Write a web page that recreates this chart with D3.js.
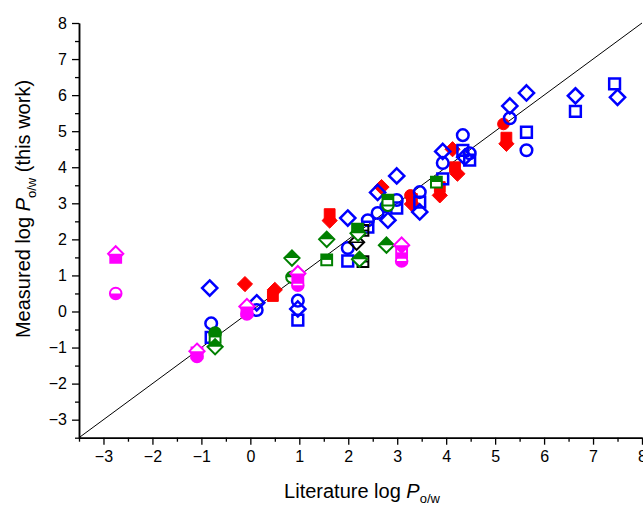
<!DOCTYPE html>
<html>
<head>
<meta charset="utf-8">
<script src="https://cdn.jsdelivr.net/npm/d3@7"></script>
<style>
  body { margin: 0; background: #fff; }
  text { font-family: "Liberation Sans", Arial, sans-serif; }
</style>
</head>
<body>
<svg id="chart" width="643" height="508"></svg>
<script>
// tick labels
var xTicks = [-3, -2, -1, 0, 1, 2, 3, 4, 5, 6, 7, 8];
var yTicks = [-3, -2, -1, 0, 1, 2, 3, 4, 5, 6, 7, 8];

// series: [literature, measured]
var blueCircle = [[-0.8,-0.33],[0.13,0.04],[0.97,0.3],[1.99,1.76],[2.4,2.53],[2.6,2.73],[2.78,2.92],
  [2.99,3.09],[3.46,3.31],[3.93,4.12],[4.34,4.89],[4.48,4.39],[5.3,5.36],[5.64,4.47]];
var blueSquare = [[-0.8,-0.72],[0.97,-0.24],[1.99,1.4],[2.4,2.34],[2.99,2.87],[3.46,3.03],[3.93,3.68],
  [4.34,4.47],[4.48,4.2],[5.64,4.97],[6.64,5.55],[7.44,6.31]];
var blueDiamond = [[-0.83,0.65],[0.13,0.24],[0.97,0.07],[1.99,2.59],[2.6,3.3],[2.81,2.53],[2.99,3.76],
  [3.46,2.76],[3.93,4.44],[4.38,4.28],[5.3,5.7],[5.64,6.06],[6.64,5.98],[7.5,5.94]];
var redDiamond = [[-0.11,0.76],[0.5,0.6],[1.62,2.52],[2.68,3.45],[3.3,2.98],[3.87,3.22],[4.13,4.5],
  [4.23,3.82],[5.23,4.65]];
var redSquare = [[0.46,0.43],[1.62,2.7],[3.3,3.12],[3.87,3.45],[4.18,4.0],[5.23,4.82]];
var redCircle = [[5.17,5.2],[3.27,3.22]];
var greenDiamond = [[-0.72,-0.98],[0.85,1.48],[1.56,2.0],[2.2,2.17],[2.23,1.45],[2.78,1.84]];
var greenSquare = [[-0.72,-0.72],[1.56,1.43],[2.19,2.28],[2.81,3.09],[3.8,3.59]];
var greenCircle = [[0.85,0.95],[-0.72,-0.6],[2.81,2.95]];
var magentaDiamond = [[-2.75,1.6],[-1.09,-1.1],[-0.07,0.14],[0.97,1.05],[3.09,1.84]];
var magentaSquare = [[-2.75,1.5],[-1.09,-1.15],[-0.07,0.02],[0.97,0.95],[3.09,1.64]];
var magentaCircle = [[-2.75,0.5],[-1.09,-1.25],[-0.07,-0.07],[0.97,0.73],[3.09,1.4]];
var blackSquare = [[2.3,2.25],[2.3,1.38]];
var blackDiamond = [[2.17,1.92]];

var svg = d3.select("#chart");
var x = d3.scaleLinear().domain([-3.5, 8]).range([79, 642]);
var y = d3.scaleLinear().domain([-3.5, 8]).range([437.7, 23]);

// diagonal y = x
svg.append("line")
  .attr("x1", x(-3.5)).attr("y1", y(-3.5))
  .attr("x2", x(8)).attr("y2", y(8))
  .attr("stroke", "#000").attr("stroke-width", 1);

function fullPath(type, s) {
  if (type == "diamond") return "M0," + -s + "L" + s + ",0L0," + s + "L" + -s + ",0Z";
  if (type == "square") return "M" + -s + "," + -s + "H" + s + "V" + s + "H" + -s + "Z";
  return "M" + -s + ",0A" + s + "," + s + " 0 1,1 " + s + ",0A" + s + "," + s + " 0 1,1 " + -s + ",0Z";
}
function halfPath(type, s, top) {
  var d = top ? -1 : 1;
  if (type == "diamond") return "M" + -s + ",0L" + s + ",0L0," + d * s + "Z";
  if (type == "square") return "M" + -s + ",0H" + s + "V" + d * s + "H" + -s + "Z";
  return "M" + -s + ",0A" + s + "," + s + " 0 0," + (top ? 1 : 0) + " " + s + ",0Z";
}
var sizes = { diamond: 7.6, square: 5.4, circle: 5.8 };

// fill: "none" | "full" | "top" | "bottom" | "line"
function drawSeries(data, type, color, fill) {
  var s = sizes[type];
  var g = svg.append("g").selectAll("g").data(data).enter().append("g")
    .attr("transform", function (d) { return "translate(" + x(d[0]) + "," + y(d[1]) + ")"; });
  if (fill == "top" || fill == "bottom") {
    g.append("path").attr("d", fullPath(type, s)).attr("fill", "#fff");
    g.append("path").attr("d", halfPath(type, s, fill == "top")).attr("fill", color);
  }
  if (fill == "line") {
    g.append("path").attr("d", "M" + -s + ",0H" + s).attr("stroke", color).attr("stroke-width", 1.5);
  }
  g.append("path").attr("d", fullPath(type, s))
    .attr("fill", fill == "full" ? color : "none")
    .attr("stroke", color)
    .attr("stroke-width", fill == "full" ? 1 : (color == "#0000ff" ? 2.5 : 2));
}

drawSeries(redDiamond, "diamond", "#ff0000", "full");
drawSeries(redSquare, "square", "#ff0000", "full");
drawSeries(redCircle, "circle", "#ff0000", "full");
drawSeries(blueCircle, "circle", "#0000ff", "none");
drawSeries(blueSquare, "square", "#0000ff", "none");
drawSeries(blueDiamond, "diamond", "#0000ff", "none");
drawSeries(blackSquare, "square", "#000000", "line");
drawSeries(blackDiamond, "diamond", "#000000", "line");
drawSeries(greenCircle, "circle", "#008000", "top");
drawSeries(greenSquare, "square", "#008000", "top");
drawSeries(greenDiamond, "diamond", "#008000", "top");
drawSeries(magentaCircle, "circle", "#ff00ff", "bottom");
drawSeries(magentaSquare, "square", "#ff00ff", "bottom");
drawSeries(magentaDiamond, "diamond", "#ff00ff", "bottom");

// axes
var halves = d3.range(-3.5, 8.01, 0.5).filter(function (v) { return v % 1 != 0; });
svg.append("g").attr("transform", "translate(0," + y(-3.5) + ")")
  .call(d3.axisBottom(x).tickValues(halves).tickSize(4).tickSizeOuter(0).tickFormat(""));
svg.append("g").attr("transform", "translate(0," + y(-3.5) + ")")
  .call(d3.axisBottom(x).tickValues(xTicks).tickSize(7).tickSizeOuter(0).tickPadding(6).tickFormat(d3.format("d")));
svg.append("g").attr("transform", "translate(" + x(-3.5) + ",0)")
  .call(d3.axisLeft(y).tickValues(halves).tickSize(4).tickSizeOuter(0).tickFormat(""));
svg.append("g").attr("transform", "translate(" + x(-3.5) + ",0)")
  .call(d3.axisLeft(y).tickValues(yTicks).tickSize(7).tickSizeOuter(0).tickPadding(5).tickFormat(d3.format("d")));

svg.selectAll(".domain").attr("stroke-width", 1.5);
svg.selectAll(".tick line").attr("stroke-width", 1.3);
svg.selectAll(".tick text").attr("font-size", 16).attr("font-family", "Liberation Sans, Arial, sans-serif");

// axis titles
var xt = svg.append("text").attr("x", 362).attr("y", 498).attr("text-anchor", "middle")
  .attr("font-size", 20);
xt.append("tspan").text("Literature log ");
xt.append("tspan").attr("font-style", "italic").text("P");
xt.append("tspan").attr("font-size", 13).attr("dy", 5).text("o/w");

var yt = svg.append("text").attr("transform", "translate(30,209) rotate(-90)")
  .attr("text-anchor", "middle").attr("font-size", 20);
yt.append("tspan").text("Measured log ");
yt.append("tspan").attr("font-style", "italic").text("P");
yt.append("tspan").attr("font-size", 13).attr("dy", 6).text("o/w");
yt.append("tspan").attr("dy", -6).text("  (this work)");
</script>
</body>
</html>
